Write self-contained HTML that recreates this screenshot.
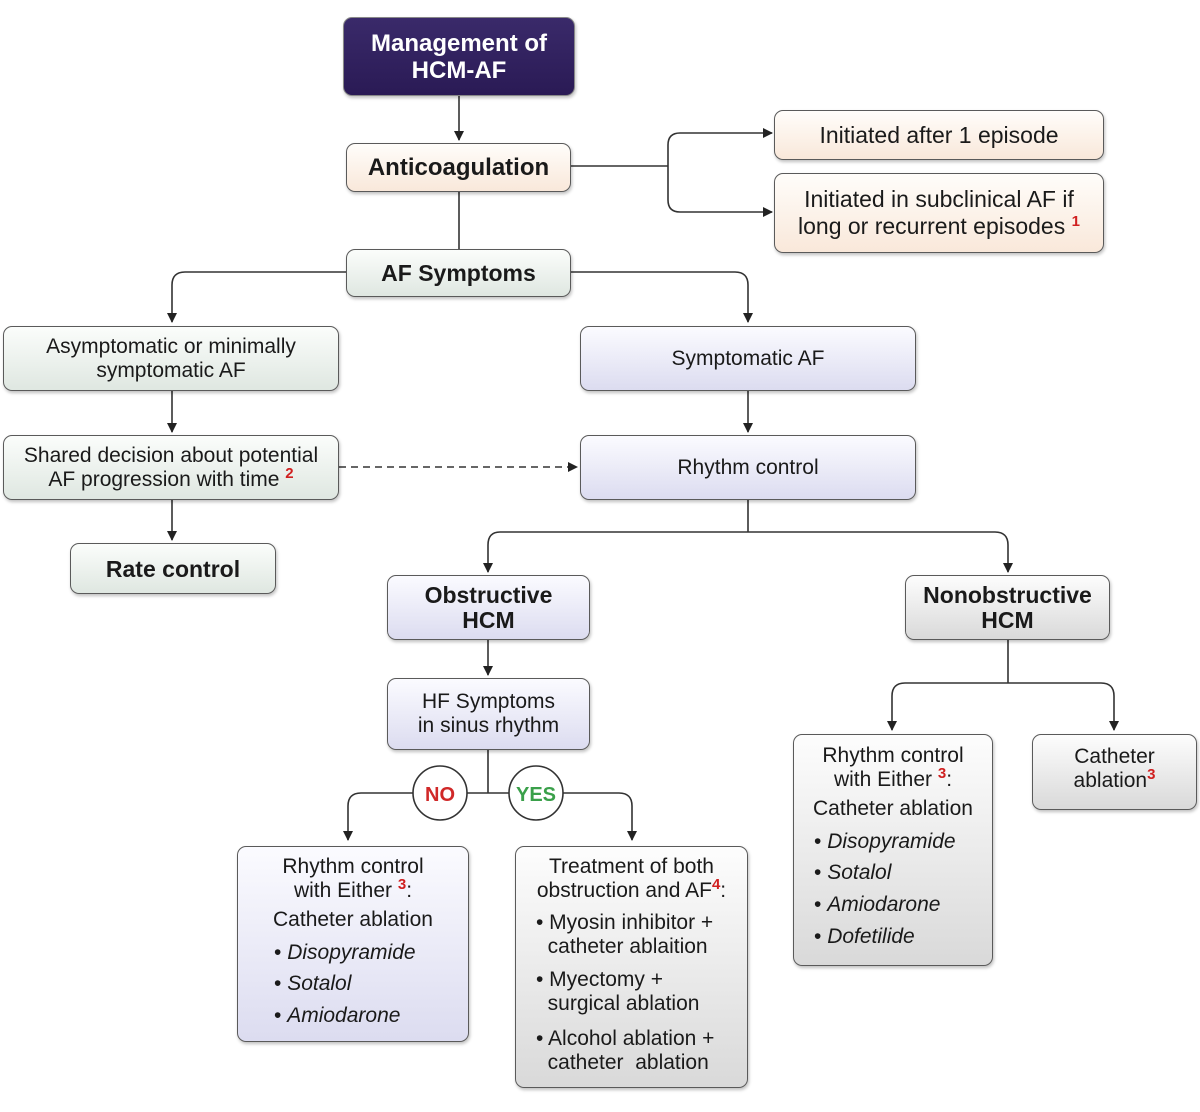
<!DOCTYPE html>
<html><head><meta charset="utf-8"><style>
body{margin:0;width:1200px;height:1112px;background:#fff;position:relative;overflow:hidden;font-family:"Liberation Sans",Arial,sans-serif;color:#1a1a1a}
.b{position:absolute;box-sizing:border-box;border:1.6px solid #5a5a5a;border-radius:9px;display:flex;align-items:center;justify-content:center;text-align:center;font-size:21px;line-height:24px;box-shadow:1px 2px 3px rgba(0,0,0,.25)}
.g{background:linear-gradient(#fbfdfb,#dfe7e1)}
.l{background:linear-gradient(#fbfbff,#dcdcf0)}
.p{background:linear-gradient(#fffdfa,#f9e8da)}
.y{background:linear-gradient(#fdfdfd,#d9d9d9)}
.bd{font-weight:bold;font-size:23px}
sup{color:#d02020;font-weight:bold;font-size:15px;vertical-align:8px;line-height:0}
.t{position:absolute;font-size:21px;line-height:24px}
i{font-style:italic}
svg{position:absolute;left:0;top:0}
</style></head><body>
<svg width="1200" height="1112">
<defs><marker id="a" markerWidth="10" markerHeight="10" refX="9" refY="5" orient="auto" markerUnits="userSpaceOnUse"><path d="M0,0 L10,5 L0,10 z" fill="#222"/></marker></defs>
<g stroke="#333" stroke-width="1.6" fill="none">
<path d="M459 96 V140" marker-end="url(#a)"/>
<path d="M571 166 H668"/>
<path d="M680 133 Q668 133 668 145 V200 Q668 212 680 212 H772" marker-end="url(#a)"/>
<path d="M680 133 H772" marker-end="url(#a)"/>
<path d="M459 192 V249"/>
<path d="M346 272 H185 Q172 272 172 285 V322" marker-end="url(#a)"/>
<path d="M571 272 H735 Q748 272 748 285 V322" marker-end="url(#a)"/>
<path d="M172 391 V432" marker-end="url(#a)"/>
<path d="M748 391 V432" marker-end="url(#a)"/>
<path d="M172 500 V540" marker-end="url(#a)"/>
<path d="M339 467 H577" stroke-dasharray="7,5" marker-end="url(#a)"/>
<path d="M748 500 V532 M500 532 H995"/>
<path d="M500 532 Q488 532 488 545 V572" marker-end="url(#a)"/>
<path d="M995 532 Q1008 532 1008 545 V572" marker-end="url(#a)"/>
<path d="M488 640 V675" marker-end="url(#a)"/>
<path d="M488 750 V793 M361 793 H413 M467 793 H509 M563 793 H619"/>
<path d="M361 793 Q348 793 348 806 V840" marker-end="url(#a)"/>
<path d="M619 793 Q632 793 632 806 V840" marker-end="url(#a)"/>
<path d="M1008 640 V683 M905 683 H1101"/>
<path d="M905 683 Q892 683 892 696 V730" marker-end="url(#a)"/>
<path d="M1101 683 Q1114 683 1114 696 V730" marker-end="url(#a)"/>
<circle cx="440" cy="793" r="27" fill="#fff"/>
<circle cx="536" cy="793" r="27" fill="#fff"/>
</g>
<text x="440" y="801" text-anchor="middle" font-family="Liberation Sans" font-weight="bold" font-size="20" fill="#d02828">NO</text>
<text x="536" y="801" text-anchor="middle" font-family="Liberation Sans" font-weight="bold" font-size="20" fill="#3aa04a">YES</text>
</svg>

<div class="b bd" style="left:343px;top:17px;width:232px;height:79px;background:linear-gradient(#3a2a6a,#2a1a55);color:#fff;border-color:#888;font-size:24px;line-height:27px"><span>Management of<br>HCM-AF</span></div>
<div class="b p bd" style="left:346px;top:143px;width:225px;height:49px;font-size:24px"><span>Anticoagulation</span></div>
<div class="b p" style="left:774px;top:110px;width:330px;height:50px;font-size:23px"><span>Initiated after 1 episode</span></div>
<div class="b p" style="left:774px;top:173px;width:330px;height:80px;font-size:23px;line-height:27px"><span>Initiated in subclinical AF if<br>long or recurrent episodes <sup>1</sup></span></div>
<div class="b g bd" style="left:346px;top:249px;width:225px;height:48px"><span>AF Symptoms</span></div>
<div class="b g" style="left:3px;top:326px;width:336px;height:65px"><span>Asymptomatic or minimally<br>symptomatic AF</span></div>
<div class="b l" style="left:580px;top:326px;width:336px;height:65px"><span>Symptomatic AF</span></div>
<div class="b g" style="left:3px;top:435px;width:336px;height:65px"><span>Shared decision about potential<br>AF progression with time <sup>2</sup></span></div>
<div class="b l" style="left:580px;top:435px;width:336px;height:65px"><span>Rhythm control</span></div>
<div class="b g bd" style="left:70px;top:543px;width:206px;height:51px"><span>Rate control</span></div>
<div class="b l bd" style="left:387px;top:575px;width:203px;height:65px;line-height:25px"><span>Obstructive<br>HCM</span></div>
<div class="b y bd" style="left:905px;top:575px;width:205px;height:65px;line-height:25px"><span>Nonobstructive<br>HCM</span></div>
<div class="b l" style="left:387px;top:678px;width:203px;height:72px"><span>HF Symptoms<br>in sinus rhythm</span></div>

<div class="b l" style="left:237px;top:846px;width:232px;height:196px"></div>
<div class="t" style="left:237px;top:855px;width:232px;text-align:center">Rhythm control<br>with Either <sup>3</sup>:</div>
<div class="t" style="left:237px;top:908px;width:232px;text-align:center">Catheter ablation</div>
<div class="t" style="left:274px;top:941px">• <i>Disopyramide</i></div>
<div class="t" style="left:274px;top:972px">• <i>Sotalol</i></div>
<div class="t" style="left:274px;top:1004px">• <i>Amiodarone</i></div>

<div class="b y" style="left:515px;top:846px;width:233px;height:242px"></div>
<div class="t" style="left:515px;top:855px;width:233px;text-align:center">Treatment of both<br>obstruction and AF<sup>4</sup>:</div>
<div class="t" style="left:536px;top:911px">• Myosin inhibitor +<br>&nbsp;&nbsp;catheter ablaition</div>
<div class="t" style="left:536px;top:968px">• Myectomy +<br>&nbsp;&nbsp;surgical ablation</div>
<div class="t" style="left:536px;top:1027px">• Alcohol ablation +<br>&nbsp;&nbsp;catheter&nbsp; ablation</div>

<div class="b y" style="left:793px;top:734px;width:200px;height:232px"></div>
<div class="t" style="left:793px;top:744px;width:200px;text-align:center">Rhythm control<br>with Either <sup>3</sup>:</div>
<div class="t" style="left:793px;top:797px;width:200px;text-align:center">Catheter ablation</div>
<div class="t" style="left:814px;top:830px">• <i>Disopyramide</i></div>
<div class="t" style="left:814px;top:861px">• <i>Sotalol</i></div>
<div class="t" style="left:814px;top:893px">• <i>Amiodarone</i></div>
<div class="t" style="left:814px;top:925px">• <i>Dofetilide</i></div>

<div class="b y" style="left:1032px;top:734px;width:165px;height:76px;align-items:flex-start;padding-top:10px"><span>Catheter<br>ablation<sup>3</sup></span></div>
</body></html>
